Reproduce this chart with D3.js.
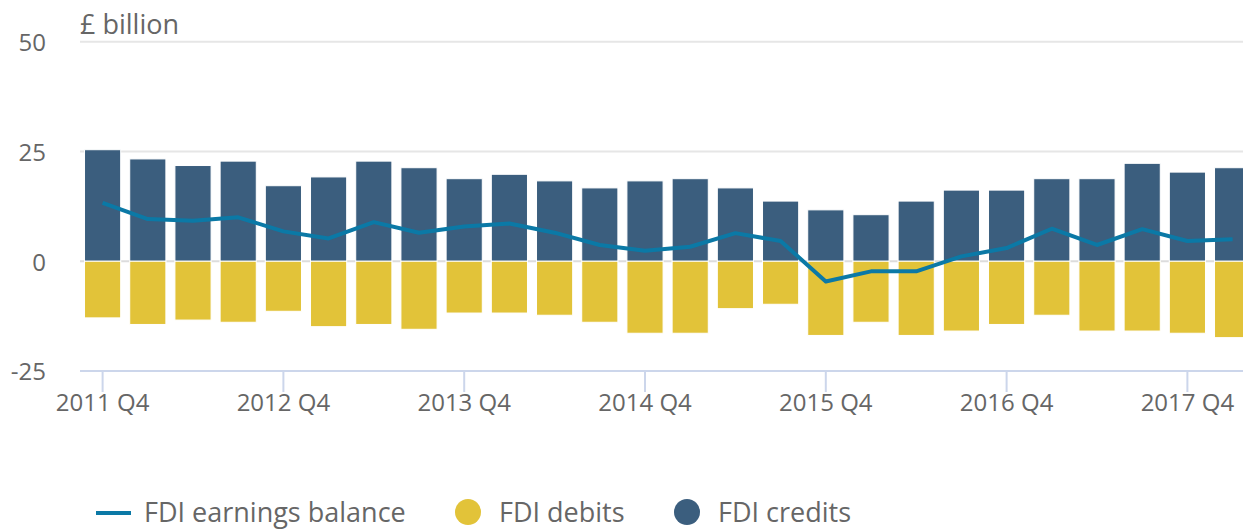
<!DOCTYPE html>
<html>
<head>
<meta charset="utf-8">
<script src="https://cdn.jsdelivr.net/npm/d3@7"></script>
<style>
  html, body { margin: 0; padding: 0; background: #fff; overflow: hidden; }
  svg { display: block; font-family: "Open Sans", sans-serif; }
</style>
</head>
<body>
<div id="chart"></div>
<script>
// quarters shown on the x axis (2011 Q4 .. 2018 Q1)
const quarters = ['2011 Q4',
  '2012 Q1', '2012 Q2', '2012 Q3', '2012 Q4',
  '2013 Q1', '2013 Q2', '2013 Q3', '2013 Q4',
  '2014 Q1', '2014 Q2', '2014 Q3', '2014 Q4',
  '2015 Q1', '2015 Q2', '2015 Q3', '2015 Q4',
  '2016 Q1', '2016 Q2', '2016 Q3', '2016 Q4',
  '2017 Q1', '2017 Q2', '2017 Q3', '2017 Q4',
  '2018 Q1']

// £ billion
const credits = [25.4, 23.3, 21.8, 22.8, 17.2, 19.2, 22.8, 21.3, 18.8, 19.8, 18.3, 16.7, 18.3,
  18.8, 16.7, 13.7, 11.7, 10.6, 13.7, 16.2, 16.2, 18.8, 18.8, 22.3, 20.3, 21.3]
const debits = [-12.9, -14.4, -13.4, -13.9, -11.4, -14.9, -14.4, -15.5, -11.8, -11.8, -12.3, -13.9, -16.4,
  -16.4, -10.8, -9.8, -16.9, -13.9, -16.9, -15.9, -14.4, -12.3, -15.9, -15.9, -16.4, -17.4]
const balance = [13.3, 9.6, 9.2, 10.0, 6.8, 5.2, 8.9, 6.5, 7.9, 8.6, 6.5, 3.7, 2.4,
  3.3, 6.4, 4.6, -4.6, -2.3, -2.3, 1.1, 3.0, 7.4, 3.7, 7.3, 4.6, 5.0]

const yTicks = [-25, 0, 25, 50]
const xTickLabels = ['2011 Q4', '2012 Q4', '2013 Q4', '2014 Q4', '2015 Q4', '2016 Q4', '2017 Q4']

const legendItems = [
  {name: 'FDI earnings balance', type: 'line'},
  {name: 'FDI debits', type: 'dot', color: '#e2c339'},
  {name: 'FDI credits', type: 'dot', color: '#3b5e7e'}
]

//size of the picture
const w = 1243
const h = 529
const left = 80
const step = 45.2

const creditColor = '#3b5e7e'
const debitColor = '#e2c339'
const lineColor = '#0b79a6'
const textColor = '#666'

const svg = d3.select('#chart')
  .append('svg')
  .attr('width', w)
  .attr('height', h)

// band scale runs a bit past the right edge, the last bar is clipped like the original
const x = d3.scaleBand()
  .domain(quarters)
  .range([left, left + step * quarters.length])
  .paddingInner(0.2)
  .paddingOuter(0.1)

const y = d3.scaleLinear()
  .domain([-25, 50])
  .range([371, 41.7])

// grid lines
svg.append('g')
  .selectAll('line')
  .data(yTicks.filter(d => d > -25))
  .enter()
  .append('line')
  .attr('x1', left)
  .attr('x2', w)
  .attr('y1', d => y(d))
  .attr('y2', d => y(d))
  .attr('stroke', d => d === 0 ? '#dcdcdc' : '#e6e6e6')
  .attr('stroke-width', 2)

// y labels
svg.append('g')
  .selectAll('text')
  .data(yTicks)
  .enter()
  .append('text')
  .attr('x', 46)
  .attr('y', d => y(d) + 3)
  .attr('text-anchor', 'end')
  .attr('dominant-baseline', 'middle')
  .attr('fill', textColor)
  .style('font-size', '24px')
  .text(d => d)

svg.append('text')
  .attr('x', left)
  .attr('y', 34)
  .attr('fill', textColor)
  .style('font-size', '27px')
  .text('£ billion')

// bars
const barData = quarters.map((q, i) => ({q: q, credit: credits[i], debit: debits[i]}))

svg.append('g')
  .selectAll('rect')
  .data(barData)
  .enter()
  .append('rect')
  .attr('x', d => x(d.q))
  .attr('y', d => y(d.credit))
  .attr('width', x.bandwidth())
  .attr('height', d => y(0) - y(d.credit))
  .attr('fill', creditColor)
  .attr('stroke', '#fff')
  .attr('stroke-width', 1)

svg.append('g')
  .selectAll('rect')
  .data(barData)
  .enter()
  .append('rect')
  .attr('x', d => x(d.q))
  .attr('y', y(0))
  .attr('width', x.bandwidth())
  .attr('height', d => y(d.debit) - y(0))
  .attr('fill', debitColor)
  .attr('stroke', '#fff')
  .attr('stroke-width', 1)

// x axis
const xAxis = d3.axisBottom(x)
  .tickValues(xTickLabels)
  .tickSize(21)
  .tickPadding(2)

const gx = svg.append('g')
  .attr('transform', `translate(0,${y(-25)})`)
  .call(xAxis)

gx.select('.domain').remove()
gx.selectAll('.tick line').attr('stroke', '#ccd6eb').attr('stroke-width', 2)
gx.selectAll('.tick text')
  .attr('fill', textColor)
  .style('font-size', '24px')
  .style('font-family', '"Open Sans", sans-serif')

svg.append('line')
  .attr('x1', left)
  .attr('x2', w)
  .attr('y1', y(-25))
  .attr('y2', y(-25))
  .attr('stroke', '#ccd6eb')
  .attr('stroke-width', 2)

// balance line
const line = d3.line()
  .x((d, i) => x(quarters[i]) + x.bandwidth() / 2)
  .y(d => y(d))

svg.append('path')
  .datum(balance)
  .attr('d', line)
  .attr('fill', 'none')
  .attr('stroke', lineColor)
  .attr('stroke-width', 4)
  .attr('stroke-linejoin', 'round')

// legend
const legendX = [96, 455, 674]
const legend = svg.append('g')

legendItems.forEach((item, i) => {
  const g = legend.append('g').attr('transform', `translate(${legendX[i]},0)`)
  if (item.type === 'line') {
    g.append('line')
      .attr('x1', 0).attr('x2', 35)
      .attr('y1', 513).attr('y2', 513)
      .attr('stroke', lineColor)
      .attr('stroke-width', 4)
    g.append('text')
      .attr('x', 48)
      .attr('y', 522)
      .attr('fill', textColor)
      .style('font-size', '27px')
      .text(item.name)
  } else {
    g.append('ellipse')
      .attr('cx', 13).attr('cy', 512)
      .attr('rx', 13).attr('ry', 13)
      .attr('fill', item.color)
    g.append('text')
      .attr('x', 44)
      .attr('y', 522)
      .attr('fill', textColor)
      .style('font-size', '27px')
      .text(item.name)
  }
})
</script>
</body>
</html>
